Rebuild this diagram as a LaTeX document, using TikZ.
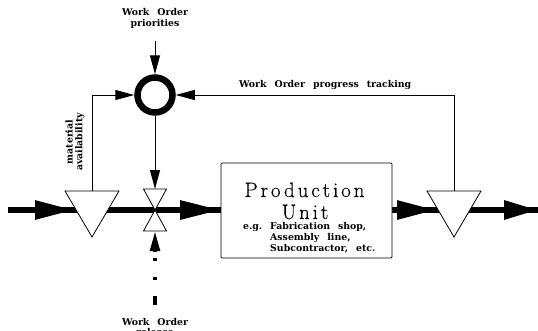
\documentclass[tikz,border=0pt]{standalone}
\usepackage{fontspec}
\usetikzlibrary{arrows.meta,shapes.geometric,positioning}
\newfontfamily\prodfont[LetterSpace=14,FakeBold=0.3]{Latin Modern Roman}
\newfontfamily\lblfam{DejaVu Serif}
\newcommand{\lblfont}{\lblfam\bfseries\fontsize{9.4}{9.4}\selectfont}
\newcommand{\wsp}{\hspace{8pt}}
\tikzset{
  x=1bp,y=-1bp,
  thin line/.style={line width=1bp,draw=black},
  thin arrow/.style={thin line,-{Triangle[length=19bp,width=10bp]}},
  flow line/.style={line width=6bp,draw=black},
  label text/.style={font=\lblfont,align=center,inner sep=0pt},
  invtri/.style={isosceles triangle,isosceles triangle stretches,shape border rotate=-90,draw=black,fill=white,line width=0.8bp,inner sep=0pt,minimum width=54bp,minimum height=46bp,anchor=apex,outer sep=0pt},
  valvetop/.style={isosceles triangle,isosceles triangle stretches,shape border rotate=-90,draw=black,fill=white,line width=0.8bp,inner sep=0pt,minimum width=23bp,minimum height=21bp,anchor=apex,outer sep=0pt},
  valvebot/.style={valvetop,shape border rotate=90},
}
\begin{document}
\begin{tikzpicture}
\useasboundingbox (0,0) rectangle (538,330);
% free ends
\coordinate (in) at (8,210);
\coordinate (tipA) at (74,210);
\coordinate (tipB) at (221,210);
\coordinate (tipC) at (436,210);
\coordinate (tipD) at (538,210);
\coordinate (prioStart) at (155,41);
\coordinate (relStart) at (155,305);
\coordinate (relHead) at (155,252);
% main flow
\draw[flow line] (in) -- (tipB);
\draw[flow line] (392,210) -- (tipD);
\draw[flow line,-{Triangle[length=39bp,width=18bp]}] (35,210) -- (tipA);
\draw[flow line,-{Triangle[length=41bp,width=18bp]}] (180,210) -- (tipB);
\draw[flow line,-{Triangle[length=39bp,width=18bp]}] (397,210) -- (tipC);
\draw[flow line,-{Triangle[length=34bp,width=18bp]}] (504,210) -- (tipD);
% shapes
\node[invtri] (invA) at (92,237) {};
\node[invtri] (invB) at (454,237) {};
\node[valvetop] (valveT) at (155,210) {};
\node[valvebot] (valveB) at (155,210) {};
\node[draw=black,fill=white,line width=6.5bp,circle,minimum size=35bp,inner sep=0pt] (ctrl) at (155,95) {};
\node[draw=black,fill=white,line width=0.9bp,rounded corners=1bp,minimum width=171bp,minimum height=95bp,inner sep=0pt] (unit) at (306.5,210.5) {};
% control links
\draw[thin arrow] (prioStart) -- (ctrl.north);
\draw[thin arrow] (ctrl.south) -- (155,189);
\draw[thin arrow] (92,191) |- (ctrl.west);
\draw[thin arrow] (454,191) |- (ctrl.east);
% release
\draw[line width=3.8bp,dash pattern=on 9bp off 16bp on 3bp off 16bp on 3bp off 30bp] (relStart) -- (relHead);
\draw[line width=3.6bp,-{Triangle[length=20bp,width=9.5bp]}] (relHead) -- (155,231);
% labels
\node[label text] (lblprio) at (155,18.5) {Work\wsp Order\\[1pt]priorities};
\node[label text,anchor=west] (lbltrack) at (239,84.5) {Work\wsp Order\wsp progress\wsp tracking};
\node[label text,rotate=90] (lblmat) at (75,142) {material\\[0.5pt]availability};
\node[label text] (lblrel) at (155,327) {Work\wsp Order\\[1pt]release};
\node[font=\prodfont\fontsize{21}{21}\selectfont,inner sep=0pt,anchor=base] (lblprod) at (304.5,197) {Production};
\node[font=\prodfont\fontsize{21}{21}\selectfont,inner sep=0pt,anchor=base] (lblunit) at (305,219) {Unit};
\node[label text,align=left,anchor=north west] (lbleg) at (243,222) {e.g.\wsp Fabrication\wsp shop,\\[1.5pt]\hspace*{27bp}Assembly\wsp line,\\[1.5pt]\hspace*{27bp}Subcontractor,\wsp etc.};
\end{tikzpicture}
\end{document}
